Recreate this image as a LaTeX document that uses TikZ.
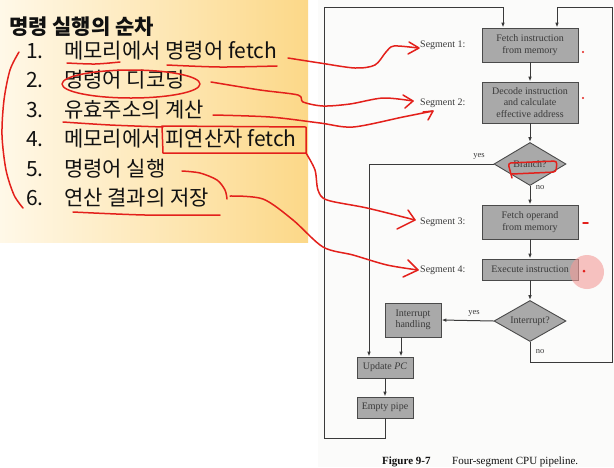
\documentclass[tikz,border=0pt]{standalone}
\usepackage{fontspec}
\setmainfont{Liberation Serif}
\newfontfamily\kofont{Noto Sans CJK KR}
\usetikzlibrary{arrows.meta,calc,positioning,shapes.geometric}
\definecolor{ink}{HTML}{111111}
\definecolor{print}{HTML}{3A3A3A}
\definecolor{boxfill}{HTML}{A9A9A9}
\definecolor{boxline}{HTML}{4A4A4A}
\definecolor{pen}{HTML}{E3201B}
\definecolor{cream}{HTML}{FFF8E8}
\definecolor{gold}{HTML}{FCD888}
\definecolor{paper}{HTML}{FBFBFA}
\tikzset{
  titletext/.style={font=\kofont\bfseries\fontsize{21}{23}\selectfont, text=ink, anchor=west, inner sep=0pt},
  itemnum/.style={font=\kofont\fontsize{21}{23}\selectfont, text=ink, anchor=west, inner sep=0pt, text height=15pt, text depth=4pt},
  itemtext/.style={itemnum},
  stage/.style={draw=boxline, fill=boxfill, line width=0.9pt, text=print, align=center,
    font=\fontsize{10}{11.5}\selectfont, inner sep=1pt, minimum width=96pt},
  smallstage/.style={stage, minimum width=56pt},
  decision/.style={diamond, aspect=1.7, draw=boxline, fill=boxfill, line width=0.9pt, text=print,
    font=\fontsize{10}{11.5}\selectfont, inner sep=0pt, minimum width=72pt, minimum height=43pt},
  seglabel/.style={font=\fontsize{10}{12}\selectfont, text=print, anchor=west, inner sep=0pt},
  tag/.style={font=\fontsize{8.5}{10}\selectfont, text=print, inner sep=0pt},
  flow/.style={-{Latex[length=5pt,width=3.6pt]}, draw=print, line width=1pt},
  redpen/.style={draw=pen, line width=1.5pt, line cap=round, line join=round},
  caption/.style={font=\fontsize{11}{13}\selectfont, text=ink, anchor=west, inner sep=0pt}
}
\begin{document}
\begin{tikzpicture}[x=1pt,y=-1pt]
  \useasboundingbox (0,0) rectangle (614,467);
  \fill[white] (0,0) rectangle (614,467);
  \fill[paper] (318,0) rectangle (614,467);
  \shade[left color=cream, right color=gold] (0,0) rectangle (308,242);

  % list of steps
  \node[titletext] (title) at (9,27) {명령 실행의 순차};
  \foreach \txt [count=\i] in {메모리에서 명령어 fetch, 명령어 디코딩, 유효주소의 계산,
      메모리에서 피연산자 fetch, 명령어 실행, 연산 결과의 저장} {
    \node[itemnum] (num\i) at (26,23.6+29.4*\i) {\i.};
    \node[itemtext] (item\i) at (64,23.6+29.4*\i) {\txt};
  }

  % pipeline flowchart
  \node[stage, minimum height=34pt] (fetchI) at (530,45) {Fetch instruction\\from memory};
  \node[stage, minimum height=41pt] (decode) at (530,102.5) {Decode instruction\\and calculate\\effective address};
  \node[decision] (branch) at (530,164) {Branch?};
  \node[stage, minimum height=34pt] (fetchO) at (530,222) {Fetch operand\\from memory};
  \node[stage, minimum height=21pt] (exec) at (530,269.5) {Execute instruction};
  \node[decision, minimum height=41pt] (intr) at (530,321) {Interrupt?};
  \node[smallstage, minimum height=34pt] (ihand) at (413,320) {Interrupt\\handling};
  \node[smallstage, minimum height=21pt] (upc) at (385,367.5) {Update \textit{PC}};
  \node[smallstage, minimum height=21pt] (epipe) at (385,407.5) {Empty pipe};

  \node[seglabel] (seg1) at (420,45) {Segment 1:};
  \node[seglabel] (seg2) at (420,103) {Segment 2:};
  \node[seglabel] (seg3) at (420,222) {Segment 3:};
  \node[seglabel] (seg4) at (420,270) {Segment 4:};

  \coordinate (ltop) at (324,7);
  \coordinate (lbot) at (324,438);
  \coordinate (rtop) at (612,7);
  \coordinate (rbot) at (612,362);

  \draw[flow] (fetchI) -- (decode);
  \draw[flow] (decode) -- (branch);
  \draw[flow] (branch) -- (fetchO);
  \draw[flow] (fetchO) -- (exec);
  \draw[flow] (exec) -- (intr);
  \draw[flow] (intr.west) -- (ihand.east);
  \draw[flow] (branch.west) -| ([xshift=-16pt]upc.north);
  \draw[flow] ([xshift=-12pt]ihand.south) -- ([xshift=-12pt]ihand.south |- upc.north);
  \draw[flow] (upc) -- (epipe);
  \draw[flow] (epipe.south) |- (lbot) -- (ltop) -| ([xshift=-27pt]fetchI.north);
  \draw[flow] (intr.south) |- (rbot) -- (rtop) -| ([xshift=27pt]fetchI.north);

  \node[tag] (byes) at (479,156) {yes};
  \node[tag] (bno) at (540,188) {no};
  \node[tag] (iyes) at (474,313) {yes};
  \node[tag] (ino) at (540,352) {no};

  \node[caption] (capnum) at (382,462) {\textbf{Figure 9-7}};
  \node[caption] (captext) at (452,462) {Four-segment CPU pipeline.};

  % red pen marks
  \fill[pen!45, opacity=0.6] (587,272) circle (17pt);
  \draw[redpen] plot[smooth] coordinates {(19,52) (10,70) (4,100) (2,135) (6,170) (14,195) (23,208)};
  \draw[redpen] plot[smooth] coordinates {(67,63) (95,64) (120,62)};
  \draw[redpen] plot[smooth] coordinates {(167,65) (220,67) (277,66)};
  \draw[redpen] plot[smooth] coordinates {(288,58) (320,63) (355,68) (375,65) (386,52) (394,46) (418,48)};
  \draw[redpen] (409,42) -- (419,48) -- (408,54);
  \draw[redpen] (131,84) ellipse [x radius=69pt, y radius=14pt];
  \draw[redpen] plot[smooth] coordinates {(211,82) (260,90) (298,95) (303,102) (323,106) (350,104) (383,98) (413,101)};
  \draw[redpen] (403,95) -- (413,101) -- (405,108);
  \draw[redpen] plot[smooth] coordinates {(63,122) (110,125) (163,127)};
  \draw[redpen] plot[smooth] coordinates {(213,115) (270,117) (320,123) (353,127) (403,117) (433,111)};
  \draw[redpen] (423,112) -- (433,111) -- (428,120);
  \draw[redpen] (162,126) -- (306,127) -- (306,153) -- (163,153) -- cycle;
  \draw[redpen] plot[smooth] coordinates {(306,153) (315,170) (318,190) (327,200) (367,208) (415,220)};
  \draw[redpen] (408,210) -- (415,220) -- (397,229);
  \draw[redpen] plot[smooth] coordinates {(182,171) (200,173) (217,180) (225,190) (227,199)};
  \draw[redpen] plot[smooth] coordinates {(230,196) (263,199) (293,220) (323,247) (353,255) (387,265) (418,270)};
  \draw[redpen] (408,260) -- (418,270) -- (403,277);
  \draw[redpen] plot[smooth] coordinates {(73,212) (145,215) (220,215)};
  \draw[redpen, rounded corners=3pt] (512,178) -- (508,163) -- (557,161) -- (556,172) -- (512,174);
  \fill[pen] (583,52) circle (1.2pt);
  \fill[pen] (583,98) circle (1.2pt);
  \draw[redpen] (583,223) -- (588,223);
  \fill[pen] (584,271) circle (1.5pt);
\end{tikzpicture}
\end{document}
